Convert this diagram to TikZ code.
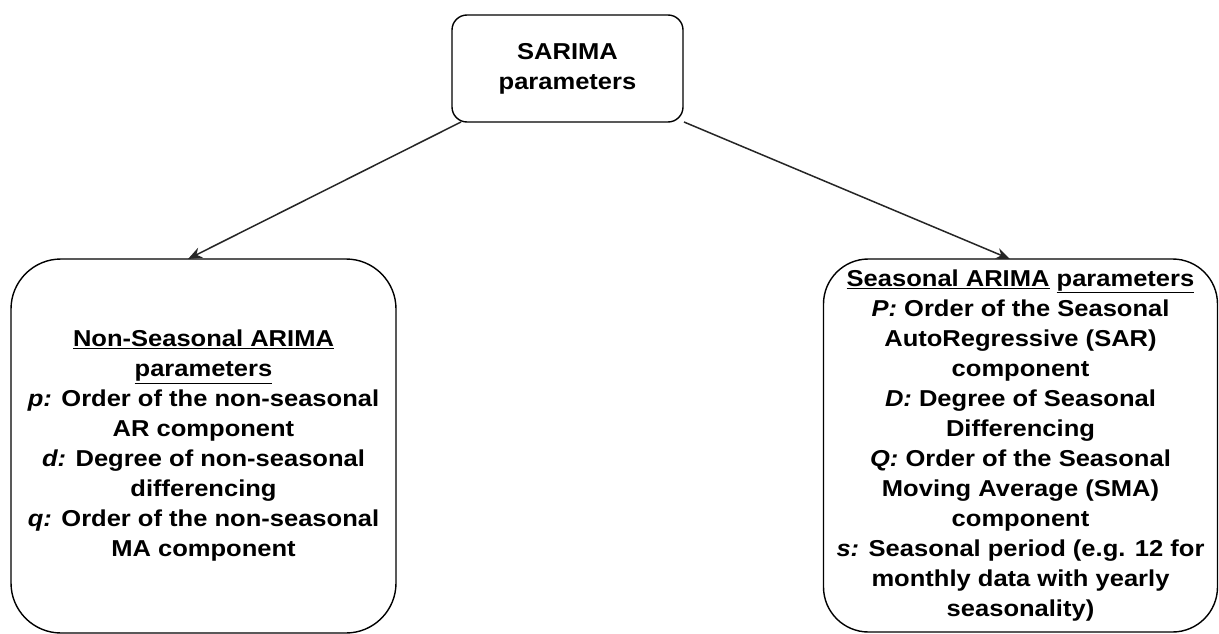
\documentclass[tikz,border=0pt]{standalone}
\usepackage{fontspec}
\setmainfont[FakeStretch=1.11]{Liberation Sans}
\usetikzlibrary{arrows.meta}
\begin{document}
\begin{tikzpicture}[x=1pt,y=-1pt,
  box/.style={draw=black, line width=1.4pt, align=center, inner sep=0pt, outer sep=0pt,
    font=\fontsize{23}{30}\selectfont\bfseries},
  conn/.style={draw=black!85, line width=1.5pt, -{Stealth[length=14pt,width=11pt]}}]
\fill[white] (0,0) rectangle (1219,634);
\useasboundingbox (0,0) rectangle (1219,634);
\node[box, rounded corners=15pt, minimum width=231pt, minimum height=107pt] (top) at (567.5,68.5)
  {SARIMA\\parameters};
\node[box, rounded corners=50pt, minimum width=385pt, minimum height=374pt] (left) at (203.5,446)
  {\underline{Non-Seasonal ARIMA}\\\underline{parameters}\\
   \textit{p:} Order of the non-seasonal\\AR component\\
   \textit{d:} Degree of non-seasonal\\differencing\\
   \textit{q:} Order of the non-seasonal\\MA component};
\node[box, rounded corners=45pt, minimum width=394pt, minimum height=373pt] (right) at (1020.5,445.5)
  {\underline{Seasonal ARIMA} \underline{parameters}\\
   \textit{P:} Order of the Seasonal\\AutoRegressive (SAR)\\component\\
   \textit{D:} Degree of Seasonal\\Differencing\\
   \textit{Q:} Order of the Seasonal\\Moving Average (SMA)\\component\\
   \textit{s:} Seasonal period (e.g. 12 for\\monthly data with yearly\\seasonality)};
\draw[conn] ([xshift=9pt]top.south west) -- ([xshift=-15.5pt]left.north);
\draw[conn] ([xshift=1pt]top.south east) -- ([xshift=-10.5pt]right.north);
\end{tikzpicture}
\end{document}
